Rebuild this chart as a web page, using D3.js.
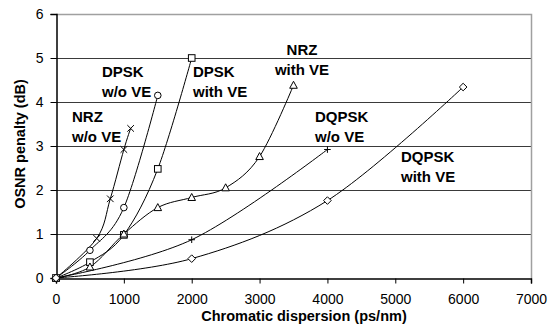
<!DOCTYPE html>
<head>
    <meta charset="utf-8">
    <style>
        body { margin: 0; padding: 0; background: #fff; }
        svg { display: block; font-family: "Liberation Sans", Arial, sans-serif; }
        .grid line { stroke: #3a3a3a; stroke-width: 1; }
        .tick text { font-size: 14px; fill: #000; }
        .lbl { font-size: 15px; font-weight: bold; fill: #000; }
        .title { font-size: 14.5px; font-weight: bold; fill: #000; }
        .curve { fill: none; stroke: #000; stroke-width: 1; }
        .mark { fill: #fff; stroke: #000; stroke-width: 1; }
    </style>
    <script src="https://d3js.org/d3.v7.min.js"></script>
</head>
<body>
    <svg width="550" height="331"></svg>
    <script>
        // data (x in ps/nm, y in dB)
        var nrzNoVE    = [[0, 0], [600, 0.9], [800, 1.8], [1000, 2.92], [1100, 3.4]];
        var dpskNoVE   = [[0, 0], [500, 0.63], [1000, 1.6], [1500, 4.15]];
        var dpskVE     = [[0, 0], [500, 0.36], [1000, 0.98], [1500, 2.48], [2000, 5.0]];
        var nrzVE      = [[0, 0], [500, 0.25], [1000, 1.0], [1500, 1.6], [2000, 1.83], [2500, 2.05], [3000, 2.76], [3500, 4.38]];
        var dqpskNoVE  = [[0, 0], [2000, 0.87], [4000, 2.92]];
        var dqpskVE    = [[0, 0], [2000, 0.44], [4000, 1.76], [6000, 4.34]];

        var xTicks = [0, 1000, 2000, 3000, 4000, 5000, 6000, 7000];
        var yTicks = [0, 1, 2, 3, 4, 5, 6];

        var series = [
            { data: nrzNoVE, marker: "x", label: ["NRZ", "w/o VE"], lx: 72, ly: 122 },
            { data: dpskNoVE, marker: "circle", label: ["DPSK", "w/o VE"], lx: 102, ly: 77 },
            { data: dpskVE, marker: "square", label: ["DPSK", "with VE"], lx: 193, ly: 77 },
            { data: nrzVE, marker: "triangle", label: ["NRZ", "with VE"], lx: 302, ly: 55, anchor: "middle" },
            { data: dqpskNoVE, marker: "plus", label: ["DQPSK", "w/o VE"], lx: 315, ly: 122 },
            { data: dqpskVE, marker: "diamond", label: ["DQPSK", "with VE"], lx: 401, ly: 162 }
        ];

        var svg = d3.select("svg");
        var pLeft = 56, pRight = 531, pTop = 14, pBottom = 278;

        var x = d3.scaleLinear().domain([0, 7000]).range([pLeft, pRight]);
        var y = d3.scaleLinear().domain([0, 6]).range([pBottom, pTop]);

        // gridlines
        svg.append("g").attr("class", "grid")
            .selectAll("line")
            .data(yTicks.filter(function (d) { return d > 0 && d < 6; }))
            .enter().append("line")
            .attr("x1", pLeft).attr("x2", pRight)
            .attr("y1", function (d) { return y(d) + 0.5; })
            .attr("y2", function (d) { return y(d) + 0.5; });

        // frame (top and right light gray)
        svg.append("path")
            .attr("d", "M" + pLeft + "," + (pTop + 0.5) + "H" + (pRight + 0.5) + "V" + pBottom)
            .attr("fill", "none").attr("stroke", "#a0a0a0").attr("stroke-width", 1.5);

        // axes
        svg.append("g")
            .attr("transform", "translate(0," + (pBottom + 0.5) + ")")
            .call(d3.axisBottom(x).tickValues(xTicks).tickFormat(d3.format("d")).tickSizeOuter(0).tickSize(5).tickPadding(11));
        svg.append("g")
            .attr("transform", "translate(" + (pLeft + 0.5) + ",0)")
            .call(d3.axisLeft(y).tickValues(yTicks).tickFormat(d3.format("d")).tickSizeOuter(0).tickSize(6).tickPadding(7));
        svg.selectAll(".domain").attr("stroke", "#000").attr("stroke-width", 1.5);
        svg.selectAll(".tick line").attr("stroke", "#000");
        svg.selectAll(".tick text").attr("font-family", "Liberation Sans, Arial, sans-serif");

        // axis titles
        svg.append("text").attr("class", "title")
            .attr("x", 304).attr("y", 321)
            .attr("text-anchor", "middle")
            .text("Chromatic dispersion (ps/nm)");
        svg.append("text").attr("class", "title")
            .attr("transform", "translate(25,144) rotate(-90)")
            .attr("text-anchor", "middle")
            .text("OSNR penalty (dB)");

        // curves
        var line = d3.line()
            .x(function (d) { return x(d[0]); })
            .y(function (d) { return y(d[1]); })
            .curve(d3.curveCatmullRom.alpha(0));

        var plot = svg.append("g");
        series.forEach(function (s) {
            plot.append("path").attr("class", "curve").attr("d", line(s.data));
        });

        // markers
        function drawMarker(g, type, cx, cy) {
            var r = 3.3;
            if (type === "circle") {
                g.append("circle").attr("class", "mark").attr("cx", cx).attr("cy", cy).attr("r", r);
            } else if (type === "square") {
                g.append("rect").attr("class", "mark").attr("x", cx - r).attr("y", cy - r).attr("width", 2 * r).attr("height", 2 * r);
            } else if (type === "triangle") {
                g.append("path").attr("class", "mark")
                    .attr("d", "M" + cx + "," + (cy - 4) + "L" + (cx + 3.8) + "," + (cy + 3) + "L" + (cx - 3.8) + "," + (cy + 3) + "Z");
            } else if (type === "diamond") {
                g.append("path").attr("class", "mark")
                    .attr("d", "M" + cx + "," + (cy - 3.8) + "L" + (cx + 3.8) + "," + cy + "L" + cx + "," + (cy + 3.8) + "L" + (cx - 3.8) + "," + cy + "Z");
            } else if (type === "x") {
                g.append("path").attr("class", "mark")
                    .attr("d", "M" + (cx - r) + "," + (cy - r) + "L" + (cx + r) + "," + (cy + r) + "M" + (cx - r) + "," + (cy + r) + "L" + (cx + r) + "," + (cy - r));
            } else if (type === "plus") {
                g.append("path").attr("class", "mark")
                    .attr("d", "M" + (cx - r) + "," + cy + "H" + (cx + r) + "M" + cx + "," + (cy - r) + "V" + (cy + r));
            }
        }
        series.forEach(function (s) {
            s.data.forEach(function (d) {
                drawMarker(plot, s.marker, x(d[0]), y(d[1]));
            });
        });

        // series labels
        series.forEach(function (s) {
            var t = svg.append("text").attr("class", "lbl")
                .attr("text-anchor", s.anchor || "start");
            s.label.forEach(function (l, i) {
                t.append("tspan").attr("x", s.lx).attr("y", s.ly + i * 20).text(l);
            });
        });
    </script>
</body>
</html>
